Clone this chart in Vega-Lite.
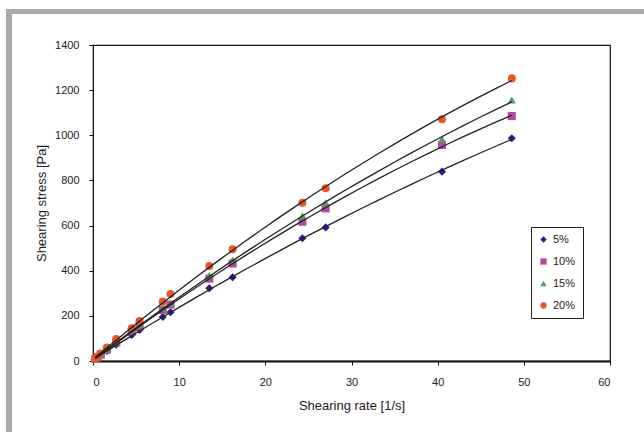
{
  "$schema": "https://vega.github.io/schema/vega-lite/v6.json",
  "width": 517,
  "height": 316,
  "autosize": {"type": "none"},
  "padding": {"left": 93, "top": 45, "right": 34, "bottom": 71},
  "background": "white",
  "config": {
    "view": {"stroke": "#111", "strokeWidth": 1.2},
    "axis": {
      "labelFont": "Liberation Sans",
      "labelFontSize": 11,
      "labelColor": "#222",
      "titleFont": "Liberation Sans",
      "titleFontSize": 13,
      "titleFontWeight": "normal",
      "titleColor": "#222",
      "domainColor": "#111",
      "tickColor": "#111",
      "grid": false,
      "tickSize": 4
    },
    "legend": {
      "labelFont": "Liberation Sans",
      "labelFontSize": 11,
      "labelColor": "#222"
    }
  },
  "datasets": {
    "pts": [
      {"series": "5%", "rate": 0.27, "stress": 8},
      {"series": "5%", "rate": 0.54, "stress": 15},
      {"series": "5%", "rate": 0.9, "stress": 25},
      {"series": "5%", "rate": 1.62, "stress": 44},
      {"series": "5%", "rate": 2.7, "stress": 72},
      {"series": "5%", "rate": 4.5, "stress": 115},
      {"series": "5%", "rate": 5.4, "stress": 137},
      {"series": "5%", "rate": 8.1, "stress": 195},
      {"series": "5%", "rate": 9.0, "stress": 216},
      {"series": "5%", "rate": 13.5, "stress": 322},
      {"series": "5%", "rate": 16.2, "stress": 371},
      {"series": "5%", "rate": 24.3, "stress": 544},
      {"series": "5%", "rate": 27.0, "stress": 592},
      {"series": "5%", "rate": 40.5, "stress": 839},
      {"series": "5%", "rate": 48.6, "stress": 987},
      {"series": "10%", "rate": 0.27, "stress": 9},
      {"series": "10%", "rate": 0.54, "stress": 17},
      {"series": "10%", "rate": 0.9, "stress": 28},
      {"series": "10%", "rate": 1.62, "stress": 50},
      {"series": "10%", "rate": 2.7, "stress": 82},
      {"series": "10%", "rate": 4.5, "stress": 130},
      {"series": "10%", "rate": 5.4, "stress": 153},
      {"series": "10%", "rate": 8.1, "stress": 226},
      {"series": "10%", "rate": 9.0, "stress": 250},
      {"series": "10%", "rate": 13.5, "stress": 365},
      {"series": "10%", "rate": 16.2, "stress": 432},
      {"series": "10%", "rate": 24.3, "stress": 617},
      {"series": "10%", "rate": 27.0, "stress": 676},
      {"series": "10%", "rate": 40.5, "stress": 957},
      {"series": "10%", "rate": 48.6, "stress": 1085},
      {"series": "15%", "rate": 0.27, "stress": 9},
      {"series": "15%", "rate": 0.54, "stress": 18},
      {"series": "15%", "rate": 0.9, "stress": 29},
      {"series": "15%", "rate": 1.62, "stress": 52},
      {"series": "15%", "rate": 2.7, "stress": 84},
      {"series": "15%", "rate": 4.5, "stress": 135},
      {"series": "15%", "rate": 5.4, "stress": 160},
      {"series": "15%", "rate": 8.1, "stress": 232},
      {"series": "15%", "rate": 9.0, "stress": 255},
      {"series": "15%", "rate": 13.5, "stress": 380},
      {"series": "15%", "rate": 16.2, "stress": 448},
      {"series": "15%", "rate": 24.3, "stress": 644},
      {"series": "15%", "rate": 27.0, "stress": 701},
      {"series": "15%", "rate": 40.5, "stress": 983},
      {"series": "15%", "rate": 48.6, "stress": 1156},
      {"series": "20%", "rate": 0.27, "stress": 10},
      {"series": "20%", "rate": 0.54, "stress": 20},
      {"series": "20%", "rate": 0.9, "stress": 33},
      {"series": "20%", "rate": 1.62, "stress": 60},
      {"series": "20%", "rate": 2.7, "stress": 97},
      {"series": "20%", "rate": 4.5, "stress": 145},
      {"series": "20%", "rate": 5.4, "stress": 177},
      {"series": "20%", "rate": 8.1, "stress": 263},
      {"series": "20%", "rate": 9.0, "stress": 297},
      {"series": "20%", "rate": 13.5, "stress": 421},
      {"series": "20%", "rate": 16.2, "stress": 495},
      {"series": "20%", "rate": 24.3, "stress": 701},
      {"series": "20%", "rate": 27.0, "stress": 765},
      {"series": "20%", "rate": 40.5, "stress": 1071},
      {"series": "20%", "rate": 48.6, "stress": 1252}
    ]
  },
  "data": {"name": "pts"},
  "layer": [
    {
      "mark": {"type": "rect", "fillOpacity": 0, "stroke": "#aaaaaa", "strokeWidth": 5},
      "encoding": {
        "x": {"datum": -9.7, "type": "quantitative", "scale": {"domain": [0, 60]}},
        "x2": {"datum": 80},
        "y": {"datum": 1548, "type": "quantitative", "scale": {"domain": [0, 1400]}},
        "y2": {"datum": -400}
      }
    },
    {
      "mark": {"type": "point", "filled": true, "opacity": 1, "size": 65},
      "encoding": {
        "x": {
          "field": "rate", "type": "quantitative",
          "scale": {"domain": [0, 60], "nice": false},
          "axis": {"title": "Shearing rate [1/s]", "values": [0, 10, 20, 30, 40, 50, 60], "format": "d", "labelPadding": 11, "titlePadding": 12, "domainWidth": 1.8}
        },
        "y": {
          "field": "stress", "type": "quantitative",
          "scale": {"domain": [0, 1400], "nice": false},
          "axis": {"title": "Shearing stress [Pa]", "values": [0, 200, 400, 600, 800, 1000, 1200, 1400], "format": "d", "labelPadding": 10, "titlePadding": 6}
        },
        "color": {
          "field": "series", "type": "nominal",
          "scale": {"domain": ["5%", "10%", "15%", "20%"], "range": ["#2d1b86", "#b5489f", "#4e9f60", "#e4582a"]},
          "legend": {
            "title": null,
            "orient": "none",
            "legendX": 438,
            "legendY": 182,
            "strokeColor": "#222",
            "padding": 7,
            "rowPadding": 10,
            "symbolSize": 40,
            "labelOffset": 4,
            "fillColor": "white"
          }
        },
        "shape": {
          "field": "series", "type": "nominal",
          "scale": {"domain": ["5%", "10%", "15%", "20%"], "range": ["diamond", "square", "triangle-up", "circle"]},
          "legend": null
        }
      }
    },
    {
      "transform": [
        {"regression": "stress", "on": "rate", "groupby": ["series"], "method": "poly", "order": 2}
      ],
      "mark": {"type": "line", "color": "#222", "strokeWidth": 1.3},
      "encoding": {
        "x": {"field": "rate", "type": "quantitative"},
        "y": {"field": "stress", "type": "quantitative"},
        "detail": {"field": "series"}
      }
    }
  ]
}
